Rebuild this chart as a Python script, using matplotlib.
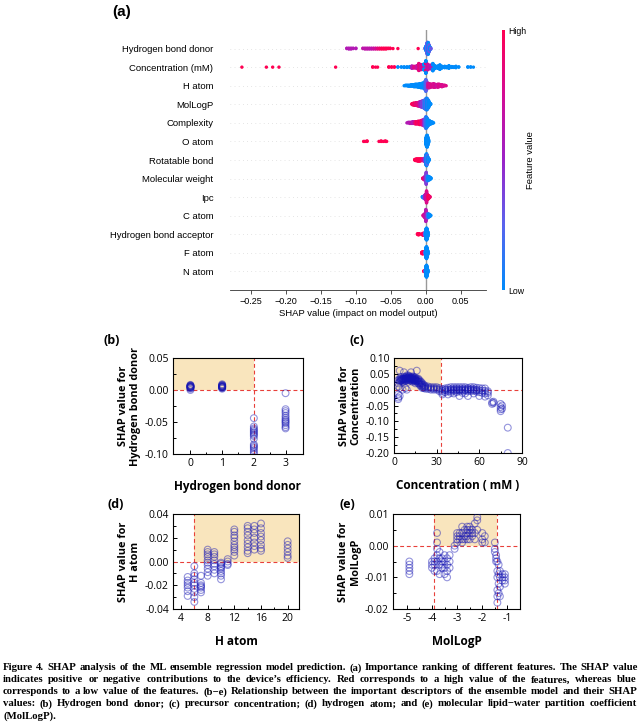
import numpy as np
import matplotlib
matplotlib.use("Agg")
import matplotlib.pyplot as plt
from matplotlib.colors import LinearSegmentedColormap
from matplotlib.patches import Rectangle
from matplotlib.cm import ScalarMappable

plt.rcParams["axes.unicode_minus"] = False

# ---- panel (a): SHAP beeswarm, (shap value, number of samples, feature value 0..1)
features = ["Hydrogen bond donor", "Concentration (mM)", "H atom", "MolLogP", "Complexity",
            "O atom", "Rotatable bond", "Molecular weight", "Ipc", "C atom",
            "Hydrogen bond acceptor", "F atom", "N atom"]

swarm_hbd = [(-0.113, 2, 0.6), (-0.110, 3, 0.6), (-0.107, 3, 0.6), (-0.104, 2, 0.6), (-0.100, 2, 0.6),
             (-0.090, 2, 0.65), (-0.087, 3, 0.65), (-0.084, 3, 0.65), (-0.081, 3, 0.65), (-0.078, 3, 0.65),
             (-0.075, 3, 0.7), (-0.072, 3, 0.75), (-0.069, 3, 0.85), (-0.066, 3, 0.9), (-0.063, 3, 1.0),
             (-0.060, 3, 1.0), (-0.057, 3, 1.0), (-0.054, 2, 1.0), (-0.051, 2, 1.0), (-0.047, 1, 1.0),
             (-0.040, 1, 1.0), (-0.011, 1, 1.0),
             (-0.001, 4, 0.3), (0.000, 12, 0.0), (0.0012, 26, 0.3), (0.0024, 32, 0.3), (0.0036, 30, 0.0),
             (0.0048, 18, 0.3), (0.006, 8, 0.0), (0.0072, 3, 0.3)]
swarm_conc = [(-0.263, 1, 1.0), (-0.228, 1, 1.0), (-0.219, 1, 1.0), (-0.210, 1, 1.0), (-0.129, 1, 1.0),
              (-0.076, 2, 1.0), (-0.072, 1, 1.0), (-0.069, 1, 1.0),
              (-0.053, 2, 1.0), (-0.049, 2, 1.0), (-0.045, 2, 1.0),
              (-0.040, 2, 0.0), (-0.035, 2, 0.0), (-0.031, 3, 0.0), (-0.027, 3, 0.0), (-0.023, 4, 0.0),
              (-0.020, 5, 0.6), (-0.017, 7, 0.8), (-0.013, 11, 0.7), (-0.010, 15, 0.85), (-0.007, 19, 0.75),
              (-0.003, 14, 0.7), (-0.003, 8, 0.0), (0.000, 16, 0.85), (0.000, 8, 0.0), (0.003, 20, 0.7),
              (0.007, 14, 0.6),
              (0.010, 13, 0.0), (0.013, 11, 0.0), (0.017, 9, 0.0), (0.020, 8, 0.0), (0.023, 7, 0.0),
              (0.027, 6, 0.0), (0.030, 5, 0.0), (0.033, 5, 0.0), (0.037, 4, 0.0), (0.040, 3, 0.0),
              (0.043, 3, 0.0), (0.047, 2, 0.0), (0.060, 2, 0.0), (0.064, 2, 0.0), (0.068, 1, 0.0)]
swarm_hatom = [(-0.031, 1, 0.0), (-0.029, 2, 0.0), (-0.027, 2, 0.0), (-0.025, 3, 0.0), (-0.023, 3, 0.0),
               (-0.021, 4, 0.0), (-0.019, 4, 0.0), (-0.017, 5, 0.0), (-0.015, 6, 0.0), (-0.013, 6, 0.0),
               (-0.011, 7, 0.0), (-0.009, 8, 0.0), (-0.007, 9, 0.0), (-0.005, 10, 0.0), (-0.003, 12, 0.0),
               (-0.001, 18, 0.1), (0.000, 24, 0.2), (0.001, 18, 0.3),
               (0.003, 10, 0.7), (0.005, 9, 0.8), (0.007, 7, 0.75), (0.009, 6, 0.8), (0.011, 8, 0.75),
               (0.013, 7, 0.8), (0.015, 5, 0.7), (0.017, 7, 0.75), (0.019, 6, 0.8), (0.021, 4, 0.75),
               (0.023, 5, 0.8), (0.025, 3, 0.75), (0.027, 2, 0.8), (0.029, 1, 0.8)]
swarm_logp = [(-0.020, 2, 1.0), (-0.019, 3, 0.9), (-0.018, 4, 1.0), (-0.017, 4, 0.9), (-0.016, 5, 1.0),
              (-0.015, 5, 0.9), (-0.014, 6, 0.85), (-0.013, 6, 0.9), (-0.012, 7, 0.8), (-0.011, 7, 0.85),
              (-0.010, 8, 0.8), (-0.009, 9, 0.7), (-0.008, 10, 0.6), (-0.007, 11, 0.5), (-0.006, 12, 0.6),
              (-0.005, 13, 0.3), (-0.004, 14, 0.4), (-0.003, 15, 0.2), (-0.002, 17, 0.3), (-0.001, 19, 0.1),
              (0.000, 22, 0.2), (0.001, 24, 0.1), (0.002, 22, 0.0), (0.003, 18, 0.1), (0.004, 14, 0.0),
              (0.005, 8, 0.0), (0.006, 4, 0.0), (0.007, 2, 0.0)]
swarm_complex = [(-0.027, 1, 0.6), (-0.025, 2, 0.6), (-0.023, 3, 0.6), (-0.021, 3, 0.65), (-0.019, 4, 0.6),
                 (-0.017, 4, 0.65), (-0.015, 5, 0.9), (-0.013, 5, 1.0), (-0.011, 6, 0.9), (-0.009, 7, 1.0),
                 (-0.007, 8, 0.9), (-0.005, 10, 0.8), (-0.003, 12, 0.5), (-0.001, 16, 0.3), (0.000, 22, 0.2),
                 (0.001, 20, 0.0), (0.002, 16, 0.1), (0.003, 12, 0.0), (0.004, 9, 0.0), (0.005, 8, 0.0),
                 (0.006, 6, 0.0), (0.007, 5, 0.0), (0.008, 4, 0.0), (0.009, 3, 0.0), (0.010, 2, 0.0),
                 (0.011, 1, 0.0)]
swarm_oatom = [(-0.089, 1, 1.0), (-0.087, 1, 1.0), (-0.084, 2, 1.0), (-0.067, 1, 1.0), (-0.064, 2, 1.0),
               (-0.061, 1, 1.0), (-0.058, 2, 1.0), (-0.056, 1, 1.0),
               (0.000, 14, 0.0), (0.001, 22, 0.0), (0.002, 24, 0.0), (0.003, 16, 0.0), (0.004, 6, 0.0)]
swarm_rot = [(-0.016, 2, 1.0), (-0.015, 3, 1.0), (-0.014, 4, 1.0), (-0.013, 4, 1.0), (-0.012, 5, 1.0),
             (-0.011, 5, 1.0), (-0.010, 5, 1.0), (-0.009, 5, 1.0), (-0.008, 5, 1.0), (-0.007, 4, 1.0),
             (-0.006, 4, 1.0), (-0.005, 4, 0.9), (-0.004, 4, 0.8), (-0.003, 5, 0.7), (-0.002, 6, 0.6),
             (-0.001, 10, 0.4), (0.000, 22, 0.1), (0.001, 26, 0.0), (0.002, 20, 0.2), (0.003, 12, 0.0),
             (0.004, 6, 0.1), (0.005, 2, 0.0)]
swarm_mw = [(-0.0045, 2, 0.9), (-0.0035, 3, 0.8), (-0.0025, 5, 0.9), (-0.0015, 8, 0.7), (-0.0005, 12, 0.6),
            (0.0005, 26, 0.4), (0.0015, 13, 0.3), (0.0025, 10, 0.1), (0.0035, 8, 0.0), (0.0045, 8, 0.0),
            (0.0055, 6, 0.0), (0.0065, 4, 0.0), (0.0075, 2, 0.0)]
swarm_ipc = [(-0.005, 2, 0.0), (-0.004, 3, 0.0), (-0.003, 5, 0.1), (-0.002, 7, 0.3), (-0.001, 10, 0.5),
             (0.000, 13, 0.7), (0.001, 26, 0.8), (0.002, 12, 0.7), (0.003, 9, 0.9), (0.004, 7, 1.0),
             (0.005, 4, 1.0), (0.006, 2, 0.9)]
swarm_catom = [(-0.004, 2, 0.8), (-0.003, 4, 0.7), (-0.002, 7, 0.8), (-0.001, 11, 0.7), (0.000, 26, 0.6),
               (0.001, 14, 0.7), (0.002, 11, 0.4), (0.003, 8, 0.2), (0.004, 7, 0.0), (0.005, 6, 0.0),
               (0.006, 3, 0.0), (0.007, 2, 0.0)]
swarm_hba = [(-0.012, 2, 1.0), (-0.011, 3, 1.0), (-0.010, 3, 1.0), (-0.009, 2, 1.0), (-0.005, 3, 1.0),
             (-0.004, 5, 1.0), (-0.003, 5, 0.9), (-0.002, 4, 0.8), (-0.001, 8, 0.2), (0.000, 22, 0.0),
             (0.001, 26, 0.0), (0.002, 22, 0.0), (0.003, 10, 0.0)]
swarm_fatom = [(-0.006, 3, 1.0), (-0.005, 5, 1.0), (-0.004, 5, 1.0), (-0.003, 4, 1.0), (-0.002, 3, 0.9),
               (-0.001, 6, 0.2), (0.000, 22, 0.0), (0.001, 26, 0.0), (0.002, 20, 0.0), (0.003, 8, 0.0)]
swarm_natom = [(-0.003, 2, 1.0), (-0.002, 2, 1.0), (-0.001, 4, 0.3), (0.000, 22, 0.0), (0.001, 26, 0.0),
               (0.002, 20, 0.0), (0.003, 6, 0.0)]

swarms = [swarm_hbd, swarm_conc, swarm_hatom, swarm_logp, swarm_complex, swarm_oatom, swarm_rot,
          swarm_mw, swarm_ipc, swarm_catom, swarm_hba, swarm_fatom, swarm_natom]

# ---- panel (b): hydrogen bond donor
b_x = [0, 1, 2, 3]
b_y = [[0.000, 0.002, 0.003, 0.004, 0.004, 0.005, 0.005, 0.005, 0.006, 0.006, 0.007, 0.007, 0.008],
       [0.002, 0.003, 0.004, 0.004, 0.005, 0.005, 0.005, 0.006, 0.006, 0.007, 0.007, 0.008, 0.009],
       [-0.044, -0.057, -0.060, -0.062, -0.064, -0.066, -0.068, -0.070, -0.072, -0.076, -0.085,
        -0.087, -0.089, -0.091, -0.094, -0.097, -0.100],
       [-0.005, -0.030, -0.033, -0.036, -0.040, -0.043, -0.046, -0.048, -0.050, -0.052, -0.055,
        -0.058, -0.060]]

# ---- panel (c): concentration
c_x = [3, 4, 5, 6, 7, 8, 9, 10, 11, 12, 13, 14, 15, 16, 17, 18, 19, 20, 21, 22, 24, 26, 28, 30, 32,
       34, 36, 38, 40, 42, 44, 46, 48, 50, 52, 54, 56, 58, 60, 62, 64, 66, 69, 70, 75, 76, 80]
c_y = [[0.030, 0.020, 0.010, -0.015, -0.025, -0.030], [0.060, 0.035, 0.030, 0.025, 0.005, -0.020],
       [0.035, 0.032, 0.028, 0.040, 0.030], [0.035, 0.030, 0.025, 0.000, 0.032],
       [0.055, 0.040, 0.035, 0.030, 0.025, 0.033],
       [0.040, 0.036, 0.032, 0.028, 0.005, 0.034], [0.045, 0.040, 0.035, 0.030, 0.000, 0.037],
       [0.045, 0.040, 0.036, 0.030, 0.025, 0.033], [0.042, 0.038, 0.034, 0.030, 0.036],
       [0.055, 0.040, 0.036, 0.032, 0.028, 0.034], [0.042, 0.038, 0.034, 0.030, 0.025, 0.036],
       [0.040, 0.036, 0.032, 0.028, 0.030], [0.038, 0.034, 0.030, 0.025, 0.020, 0.032],
       [0.060, 0.035, 0.030, 0.026, 0.028],
       [0.035, 0.030, 0.025, 0.020], [0.030, 0.025, 0.020, 0.015], [0.025, 0.020, 0.015, 0.010],
       [0.020, 0.015, 0.010, 0.005], [0.015, 0.010, 0.005], [0.012, 0.008, 0.003], [0.010, 0.006, 0.002],
       [0.008, 0.004, 0.000], [0.008, 0.004, 0.000], [0.008, 0.004, 0.000], [0.005, 0.000, -0.005],
       [0.002, -0.004, -0.010, -0.015], [0.004, -0.002, -0.008, 0.000], [0.006, 0.000, -0.005, -0.015],
       [0.008, 0.002, -0.004, -0.010, 0.000], [0.008, 0.002, -0.004, -0.012, -0.001],
       [0.008, 0.003, -0.003, -0.008, 0.000], [0.008, 0.002, -0.004, -0.020, -0.001],
       [0.008, 0.002, -0.004, -0.010, 0.000], [0.008, 0.003, -0.003, -0.012, -0.001],
       [0.006, 0.000, -0.005, -0.020, 0.002], [0.008, 0.002, -0.004, 0.000],
       [0.008, 0.002, -0.004, -0.012, -0.001],
       [0.006, 0.000, -0.006, -0.002], [0.005, -0.002, -0.008, -0.020], [0.004, -0.003, -0.010],
       [0.004, -0.004, -0.012, -0.022], [-0.005, -0.010, -0.018], [-0.040, -0.045], [-0.038, -0.042],
       [-0.045, -0.055, -0.062, -0.068], [-0.050, -0.060], [-0.120, -0.200]]

# ---- panel (d): H atom
d_x = [5, 6, 7, 8, 9, 10, 11, 12, 14, 15, 16, 20]
d_y = [[-0.013, -0.016, -0.018, -0.020, -0.022, -0.025, -0.029],
       [-0.004, -0.010, -0.012, -0.015, -0.018, -0.020, -0.023, -0.026, -0.030, -0.034],
       [-0.012, -0.018, -0.020, -0.021, -0.022, -0.024, -0.026],
       [0.010, 0.008, 0.006, 0.004, 0.001, -0.001, -0.003, -0.006, -0.009, -0.012],
       [0.008, 0.006, 0.004, 0.001, -0.002, -0.004, -0.007, -0.010],
       [-0.001, -0.002, -0.004, -0.005, -0.006, -0.008, -0.010, -0.012, -0.015],
       [0.002, 0.000, -0.002, -0.003],
       [0.027, 0.025, 0.022, 0.020, 0.017, 0.014, 0.012, 0.010, 0.008, 0.005],
       [0.030, 0.028, 0.025, 0.022, 0.018, 0.015, 0.012, 0.009, 0.007],
       [0.030, 0.027, 0.024, 0.020, 0.016, 0.013, 0.010],
       [0.032, 0.028, 0.024, 0.021, 0.018, 0.014, 0.011, 0.009],
       [0.017, 0.014, 0.011, 0.008, 0.005, 0.003]]

# ---- panel (e): MolLogP
e_x = [-4.9, -4.0, -3.9, -3.8, -3.7, -3.6, -3.5, -3.4, -3.3, -3.1, -3.0, -2.9, -2.8, -2.7, -2.6,
       -2.5, -2.4, -2.3, -2.2, -2.0, -1.9, -1.5, -1.45, -1.4, -1.35, -1.3, -1.2, -1.1]
e_y = [[-0.005, -0.006, -0.007, -0.008, -0.009], [-0.005, -0.006, -0.007], [-0.004, -0.005, -0.006, -0.008],
       [0.004, 0.001, -0.001, -0.003, -0.005, -0.008], [-0.002, -0.004, -0.006, -0.009],
       [-0.004, -0.005, -0.006, -0.007], [-0.003, -0.005, -0.007, -0.009], [-0.004, -0.006, -0.008, -0.010],
       [-0.003, -0.005, -0.007], [0.000, -0.001], [0.004, 0.003, 0.002, 0.001], [0.004, 0.003, 0.002],
       [0.006, 0.004, 0.002, 0.001], [0.005, 0.003, 0.002], [0.006, 0.005, 0.004, 0.003, 0.002],
       [0.006, 0.005, 0.004, 0.002], [0.005, 0.004, 0.003], [0.007, 0.004, 0.002], [0.009, 0.008, 0.005],
       [0.004, 0.002, 0.001], [0.003, 0.001], [0.001, -0.001, -0.002], [-0.003, -0.004, -0.005],
       [-0.005, -0.008, -0.010, -0.014, -0.016, -0.018], [-0.006, -0.009, -0.012, -0.015],
       [-0.008, -0.010, -0.013, -0.016], [-0.009, -0.010, -0.011], [-0.009, -0.010, -0.011, -0.012]]

caption_lines = [
    "Figure 4. SHAP analysis of the ML ensemble regression model prediction. (a) Importance ranking of different features. The SHAP value",
    "indicates positive or negative contributions to the device\u2019s efficiency. Red corresponds to a high value of the features, whereas blue",
    "corresponds to a low value of the features. (b\u2212e) Relationship between the important descriptors of the ensemble model and their SHAP",
    "values: (b) Hydrogen bond donor; (c) precursor concentration; (d) hydrogen atom; and (e) molecular lipid\u2212water partition coefficient",
    "(MolLogP).",
]

shap_cmap = LinearSegmentedColormap.from_list(
    "shap_rb", ["#008bfb", "#5a63ee", "#9b22c8", "#d40c95", "#ff0052"])


def swarm_offsets(vals, row_height=0.4):
    # same binning/stacking scheme as shap's summary plot
    nbins = 100
    quant = np.round(nbins * (vals - vals.min()) / (vals.max() - vals.min() + 1e-8))
    inds = np.argsort(quant, kind="stable")
    ys = np.zeros(len(vals))
    layer, last_bin = 0, -1
    for i in inds:
        if quant[i] != last_bin:
            layer = 0
        ys[i] = np.ceil(layer / 2) * ((layer % 2) * 2 - 1)
        layer += 1
        last_bin = quant[i]
    ys *= 0.9 * (row_height / np.max(ys + 1))
    return ys


def px_axes(fig, left, top, right, bottom):
    W, H = 641.0, 724.0
    return fig.add_axes([left / W, 1 - bottom / H, (right - left) / W, (bottom - top) / H])


fig = plt.figure(figsize=(6.41, 7.24), dpi=100)

# ---------------- (a)
sans_a = ["Liberation Sans", "DejaVu Sans"]
ax = px_axes(fig, 230, 30, 486, 290)
n = len(features)
for i, (name, sw) in enumerate(zip(features, swarms)):
    pos = n - 1 - i
    vals = np.repeat([s[0] for s in sw], [s[1] for s in sw])
    cols = np.repeat([s[2] for s in sw], [s[1] for s in sw])
    ys = swarm_offsets(vals)
    ax.axhline(pos, color="#cccccc", lw=0.5, dashes=(1, 5), zorder=-1)
    ax.scatter(vals, pos + ys, c=cols, cmap=shap_cmap, vmin=0, vmax=1, s=6, linewidths=0, zorder=3)
ax.axvline(0, color="#999999", lw=1.0, zorder=-1)
ax.set_xlim(-0.28, 0.086)
ax.set_ylim(-1, n)
ax.set_yticks(range(n))
ax.set_yticklabels(features[::-1], family=sans_a, fontsize=6.8)
ax.set_xticks([-0.25, -0.20, -0.15, -0.10, -0.05, 0.00, 0.05])
ax.set_xticklabels(["\u22120.25", "\u22120.20", "\u22120.15", "\u22120.10", "\u22120.05", "0.00", "0.05"],
                   family=sans_a, fontsize=6.5)
ax.tick_params(axis="y", length=0, pad=12)
ax.tick_params(axis="x", length=3, width=0.6, color="#333333", pad=2)
for sp in ["top", "right", "left"]:
    ax.spines[sp].set_visible(False)
ax.spines["bottom"].set_linewidth(0.6)
ax.spines["bottom"].set_color("#333333")
ax.set_xlabel("SHAP value (impact on model output)", family=sans_a, fontsize=6.8, labelpad=2)

cax = px_axes(fig, 502, 30, 505, 290)
cb = fig.colorbar(ScalarMappable(cmap=shap_cmap), cax=cax, ticks=[0, 1])
cb.set_ticklabels(["Low", "High"])
cb.outline.set_visible(False)
cax.tick_params(length=0, labelsize=6.3, pad=2)
for t in cax.get_yticklabels():
    t.set_family(sans_a)
cb.set_label("Feature value", family=sans_a, fontsize=6.8, labelpad=0)

fig.text(112 / 641, 1 - 12 / 724, "(a)", family=sans_a, fontsize=11, weight="bold", va="center")

# ---------------- (b)-(e)
sans_b = ["Open Sans", "DejaVu Sans"]
shade = "#f9e5bd"
red_dash = dict(color="#e8403a", lw=0.8, ls=(0, (3.5, 2.5)), zorder=2)


def style(ax, xlabel, ylabel):
    for sp in ax.spines.values():
        sp.set_linewidth(0.8)
    ax.tick_params(which="both", direction="in", top=False, right=False, labelsize=7.5, width=0.7)
    ax.tick_params(which="major", length=3, pad=3)
    ax.tick_params(which="minor", length=1.8)
    for t in ax.get_xticklabels() + ax.get_yticklabels():
        t.set_family(sans_b)
    ax.set_xlabel(xlabel, family=sans_b, weight="bold", fontsize=8.5, labelpad=8)
    ax.set_ylabel(ylabel, family=sans_b, weight="bold", fontsize=7.8, labelpad=3, linespacing=1.1)


def circles(ax, xs, ylists):
    px = np.repeat(xs, [len(v) for v in ylists])
    py = np.concatenate(ylists)
    ax.scatter(px, py, s=24, facecolors="none", edgecolors=(0.08, 0.08, 0.7, 0.45), linewidths=0.8, zorder=3)


def yfmt(ax, ticks):
    ax.set_yticks(ticks)
    ax.set_yticklabels(["%.2f" % t if abs(t) > 1e-9 else "0.00" for t in ticks])


# (b)
axb = px_axes(fig, 173, 358, 303, 454)
axb.set_xlim(-0.55, 3.55)
axb.set_ylim(-0.10, 0.05)
axb.add_patch(Rectangle((-0.55, 0), 2.55, 0.05, color=shade, lw=0, zorder=0))
axb.axhline(0, **red_dash)
axb.axvline(2, **red_dash)
circles(axb, b_x, b_y)
axb.set_xticks([0, 1, 2, 3])
axb.set_xticks([0.5, 1.5, 2.5], minor=True)
yfmt(axb, [-0.10, -0.05, 0.00, 0.05])
axb.set_yticks([-0.075, -0.025, 0.025], minor=True)
style(axb, "Hydrogen bond donor", "SHAP value for\nHydrogen bond donor")

# (c)
axc = px_axes(fig, 394, 358, 522, 453)
axc.set_xlim(0, 90)
axc.set_ylim(-0.20, 0.10)
axc.add_patch(Rectangle((0, 0), 33, 0.10, color=shade, lw=0, zorder=0))
axc.axhline(0, **red_dash)
axc.axvline(33, **red_dash)
circles(axc, c_x, c_y)
axc.set_xticks([0, 30, 60, 90])
axc.set_xticks([15, 45, 75], minor=True)
yfmt(axc, [-0.20, -0.15, -0.10, -0.05, 0.00, 0.05, 0.10])
axc.set_yticks([-0.175, -0.125, -0.075, -0.025, 0.025, 0.075], minor=True)
style(axc, "Concentration ( mM )", "SHAP value for\nConcentration")

# (d)
axd = px_axes(fig, 173, 514, 299, 609)
axd.set_xlim(2.8, 21.7)
axd.set_ylim(-0.04, 0.04)
axd.add_patch(Rectangle((6, 0), 15.7, 0.04, color=shade, lw=0, zorder=0))
axd.axhline(0, **red_dash)
axd.axvline(6, **red_dash)
circles(axd, d_x, d_y)
axd.set_xticks([4, 8, 12, 16, 20])
axd.set_xticks([6, 10, 14, 18], minor=True)
yfmt(axd, [-0.04, -0.02, 0.00, 0.02, 0.04])
axd.set_yticks([-0.03, -0.01, 0.01, 0.03], minor=True)
style(axd, "H atom", "SHAP value for\nH atom")

# (e)
axe = px_axes(fig, 393, 514, 520, 609)
axe.set_xlim(-5.55, -0.5)
axe.set_ylim(-0.02, 0.01)
axe.add_patch(Rectangle((-3.9, 0), 2.5, 0.01, color=shade, lw=0, zorder=0))
axe.axhline(0, **red_dash)
axe.axvline(-3.9, **red_dash)
axe.axvline(-1.4, **red_dash)
circles(axe, e_x, e_y)
axe.set_xticks([-5, -4, -3, -2, -1])
axe.set_xticks([-4.5, -3.5, -2.5, -1.5], minor=True)
yfmt(axe, [-0.02, -0.01, 0.00, 0.01])
axe.set_yticks([-0.015, -0.005, 0.005], minor=True)
style(axe, "MolLogP", "SHAP value for\nMolLogP")

for lbl, x, y in [("(b)", 104, 341), ("(c)", 350, 341), ("(d)", 108, 504), ("(e)", 340, 504)]:
    fig.text(x / 641, 1 - y / 724, lbl, family=sans_b, fontsize=9, weight="bold", va="center")

# ---------------- caption, justified like the journal page
renderer = fig.canvas.get_renderer()
serif_fam = ["Liberation Serif", "DejaVu Serif"]
x_left, x_right = 3.0, 637.0
probe = fig.text(0, 0, caption_lines[0], family=serif_fam, fontsize=8, weight="bold")
cap_size = 8 * (x_right - x_left) * 0.985 / probe.get_window_extent(renderer).width
probe.remove()
for k, line in enumerate(caption_lines):
    y = 1 - (668 + 12 * k) / 724
    words = line.split(" ")
    texts = [fig.text(0, y, w, family=serif_fam, fontsize=cap_size, weight="bold", va="center")
             for w in words]
    widths = [t.get_window_extent(renderer).width for t in texts]
    last = k == len(caption_lines) - 1
    gap = 2.5 if (last or len(words) == 1) else (x_right - x_left - sum(widths)) / (len(words) - 1)
    x = x_left
    for t, w in zip(texts, widths):
        t.set_x(x / 641)
        x += w + gap

fig.savefig("out.png", dpi=100)
